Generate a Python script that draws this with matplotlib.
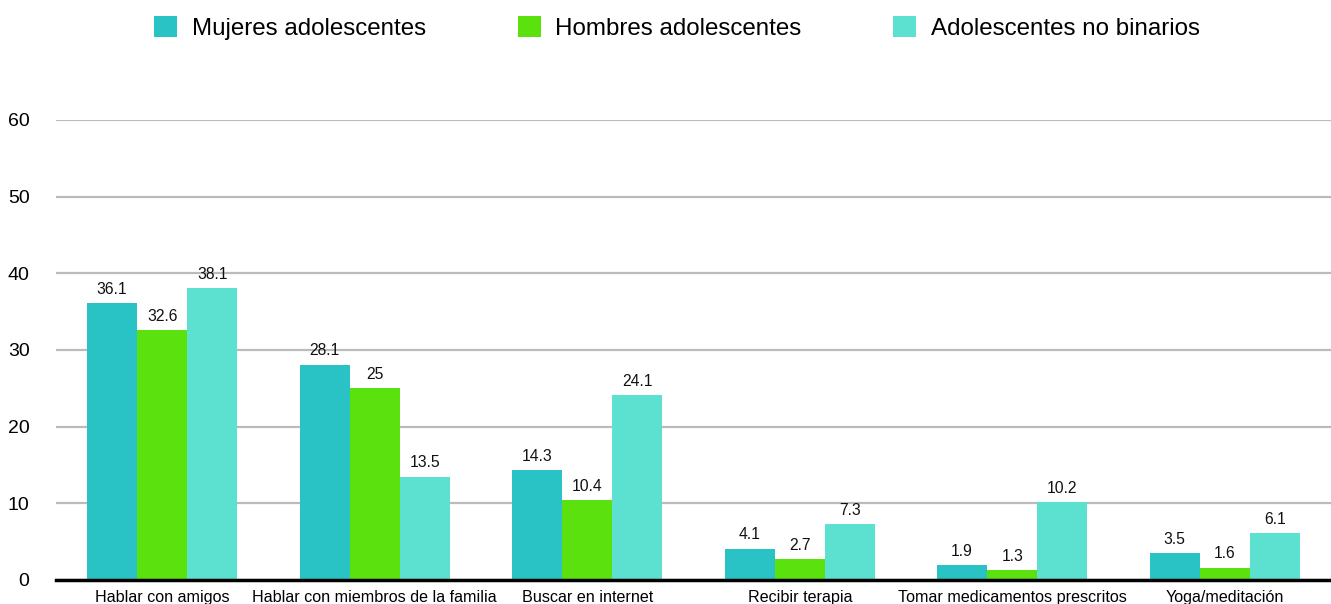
import matplotlib
matplotlib.use("Agg")
import matplotlib.pyplot as plt
import numpy as np

plt.rcParams['font.family'] = ['Liberation Sans', 'DejaVu Sans']

categories = ["Hablar con amigos", "Hablar con miembros de la familia", "Buscar en internet",
              "Recibir terapia", "Tomar medicamentos prescritos", "Yoga/meditación"]
series_names = ["Mujeres adolescentes", "Hombres adolescentes", "Adolescentes no binarios"]
mujeres = [36.1, 28.1, 14.3, 4.1, 1.9, 3.5]
hombres = [32.6, 25, 10.4, 2.7, 1.3, 1.6]
no_binarios = [38.1, 13.5, 24.1, 7.3, 10.2, 6.1]
value_labels = [["36.1", "28.1", "14.3", "4.1", "1.9", "3.5"],
                ["32.6", "25", "10.4", "2.7", "1.3", "1.6"],
                ["38.1", "13.5", "24.1", "7.3", "10.2", "6.1"]]
yticks = [0, 10, 20, 30, 40, 50, 60]
colors = ["#29C3C5", "#5AE10E", "#5CE0CF"]

W, H = 1331, 604
fig = plt.figure(figsize=(W / 100, H / 100), dpi=100)
ax = fig.add_axes([56 / W, (H - 580) / H, 1 - 56 / W, (580 - 120) / H])

x = np.arange(len(categories))
bw = 0.236
handles = []
for i, (vals, col, labs) in enumerate(zip([mujeres, hombres, no_binarios], colors, value_labels)):
    bars = ax.bar(x + (i - 1) * bw, vals, width=bw, color=col, label=series_names[i], zorder=3)
    handles.append(bars)
    for b, lab in zip(bars, labs):
        ax.annotate(lab, (b.get_x() + b.get_width() / 2, b.get_height()),
                    xytext=(0, 4.5), textcoords="offset points",
                    ha="center", va="bottom", fontsize=11.3, color="#111111", zorder=4)

ax.set_xlim(-0.5, len(categories) - 0.5)
ax.set_ylim(0, 60)
ax.set_yticks(yticks)
ax.set_yticklabels([str(t) for t in yticks], fontsize=14)
ax.set_xticks(x)
ax.set_xticklabels(categories, fontsize=11.6)
ax.tick_params(axis='y', length=0, pad=19)
ax.tick_params(axis='x', length=0, pad=7.5)
ax.yaxis.grid(True, color="#BBBBBB", linewidth=1.6, zorder=0)
ax.set_axisbelow(True)
for s in ["top", "right", "left"]:
    ax.spines[s].set_visible(False)
ax.spines["bottom"].set_linewidth(2.5)
ax.spines["bottom"].set_color("black")
ax.spines["bottom"].set_zorder(5)

fig.legend(handles=handles, labels=series_names, loc="center", bbox_to_anchor=(677 / W, 1 - 28 / H),
           ncol=3, frameon=False, fontsize=17.4, handlelength=0.95, handleheight=0.95,
           handletextpad=0.6, columnspacing=3.8)

fig.savefig("out.png", dpi=100)
